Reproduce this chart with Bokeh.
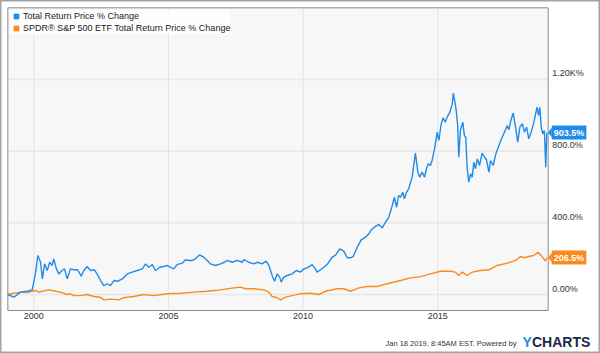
from bokeh.plotting import figure
from bokeh.models import (ColumnDataSource, Range1d, Legend, LegendItem, Label, PolyAnnotation)
from bokeh.core.properties import value
from bokeh.embed import file_html
from bokeh.resources import INLINE

# ---------------- data (decimal years, % change) ----------------
series_names = ["Total Return Price % Change",
                "SPDR\u00ae S&P 500 ETF Total Return Price % Change"]

blue_t = [1999.03, 1999.26, 1999.51, 1999.75, 1999.94, 2000.06, 2000.15, 2000.25, 2000.32, 2000.40,
          2000.50, 2000.59, 2000.68, 2000.74, 2000.84, 2000.93, 2001.05, 2001.14, 2001.24, 2001.36,
          2001.49, 2001.63, 2001.76, 2001.86, 2001.98, 2002.11, 2002.25, 2002.35, 2002.48, 2002.60,
          2002.73, 2002.85, 2002.97, 2003.12, 2003.29, 2003.47, 2003.65, 2003.84, 2004.03, 2004.15,
          2004.27, 2004.40, 2004.52, 2004.68, 2004.83, 2004.95, 2005.08, 2005.20, 2005.32, 2005.51,
          2005.63, 2005.76, 2005.88, 2006.00, 2006.15, 2006.31, 2006.44, 2006.56, 2006.75, 2006.93,
          2007.08, 2007.18, 2007.37, 2007.55, 2007.74, 2007.80, 2007.98, 2008.17, 2008.30, 2008.48,
          2008.63, 2008.73, 2008.85, 2008.94, 2009.04, 2009.13, 2009.19, 2009.28, 2009.41, 2009.59,
          2009.75, 2009.90, 2010.03, 2010.15, 2010.34, 2010.46, 2010.52, 2010.65, 2010.77, 2010.89,
          2011.08, 2011.20, 2011.36, 2011.51, 2011.64, 2011.76, 2011.86, 2012.01, 2012.16, 2012.32,
          2012.44, 2012.53, 2012.69, 2012.81, 2012.94, 2013.06, 2013.18, 2013.31, 2013.39, 2013.47,
          2013.55, 2013.62, 2013.70, 2013.76, 2013.84, 2013.92, 2014.05, 2014.17, 2014.26, 2014.33,
          2014.42, 2014.51, 2014.58, 2014.64, 2014.73, 2014.79, 2014.88, 2014.98, 2015.04, 2015.13,
          2015.20, 2015.28, 2015.35, 2015.45, 2015.54, 2015.58, 2015.65, 2015.70, 2015.74, 2015.78,
          2015.84, 2015.93, 2015.99, 2016.04, 2016.09, 2016.15, 2016.22, 2016.28, 2016.34, 2016.40,
          2016.47, 2016.55, 2016.65, 2016.74, 2016.81, 2016.90, 2016.96, 2017.06, 2017.14, 2017.27,
          2017.39, 2017.48, 2017.58, 2017.64, 2017.73, 2017.80, 2017.89, 2017.97, 2018.05, 2018.14,
          2018.22, 2018.30, 2018.38, 2018.47, 2018.57, 2018.64, 2018.69, 2018.74, 2018.79, 2018.84,
          2018.90, 2018.96, 2019.01, 2019.05]
blue_v = [0, -15, 13, 18, 26, 115, 218, 180, 87, 171,
          134, 180, 162, 199, 143, 115, 134, 143, 87, 143,
          138, 138, 102, 134, 156, 134, 138, 115, 78, 50,
          60, 50, 78, 74, 87, 115, 125, 134, 143, 171,
          152, 167, 134, 152, 156, 162, 152, 143, 167, 175,
          194, 190, 190, 199, 221, 208, 190, 171, 162, 171,
          180, 190, 180, 190, 180, 194, 180, 171, 180, 171,
          186, 162, 106, 74, 115, 97, 69, 97, 106, 115,
          134, 125, 143, 149, 167, 143, 125, 138, 152, 167,
          208, 218, 255, 242, 205, 205, 212, 264, 305, 320,
          339, 361, 380, 391, 372, 404, 431, 497, 543, 487,
          553, 543, 571, 534, 571, 590, 655, 789, 683, 655,
          683, 655, 702, 729, 720, 748, 813, 906, 860, 953,
          986, 962, 990, 1018, 1064, 1124, 1064, 1008, 943, 766,
          915, 962, 887, 878, 710, 627, 673, 655, 738, 702,
          757, 720, 789, 766, 752, 683, 748, 720, 776, 832,
          878, 906, 943, 919, 981, 1012, 934, 850, 934, 953,
          906, 934, 869, 906, 962, 1012, 1045, 999, 1045, 934,
          897, 915, 710, 903.5]

orange_t = [1999.03, 1999.26, 1999.51, 1999.75, 1999.94, 2000.06, 2000.19, 2000.31, 2000.56, 2000.81,
            2000.99, 2001.24, 2001.36, 2001.49, 2001.73, 2001.98, 2002.23, 2002.48, 2002.60, 2002.85,
            2003.16, 2003.34, 2003.71, 2004.08, 2004.46, 2004.95, 2005.45, 2005.94, 2006.44, 2006.93,
            2007.43, 2007.68, 2007.86, 2008.17, 2008.54, 2008.73, 2008.85, 2009.04, 2009.16, 2009.35,
            2009.59, 2009.90, 2010.27, 2010.58, 2010.83, 2011.27, 2011.51, 2011.76, 2012.07, 2012.38,
            2012.75, 2013.12, 2013.62, 2013.99, 2014.36, 2014.73, 2015.10, 2015.47, 2015.65, 2015.78,
            2015.91, 2016.09, 2016.28, 2016.59, 2016.90, 2017.21, 2017.58, 2017.89, 2018.07, 2018.22,
            2018.38, 2018.57, 2018.72, 2018.84, 2019.00, 2019.05]
orange_v = [0, 7, 13, 11, 18, 22, 13, 18, 26, 18,
            13, 0, 4, -6, -6, 0, -11, -15, -30, -26,
            -30, -18, -11, 0, -6, 4, 7, 13, 18, 26,
            37, 41, 32, 32, 26, 13, -11, -18, -30, -15,
            -6, 5, 7, 0, 18, 32, 32, 18, 37, 45,
            45, 60, 78, 93, 100, 115, 130, 130, 125, 106,
            125, 106, 125, 134, 138, 162, 175, 190, 212, 205,
            212, 218, 236, 218, 186, 206.5]

x_ticks = [2000, 2005, 2010, 2015]
x_tick_labels = ["2000", "2005", "2010", "2015"]
y_ticks = [0, 400, 800, 1200]
y_tick_labels = ["0.00%", "400.0%", "800.0%", "1.20K%"]
last_labels = ["903.5%", "206.5%"]
footer_text = "Jan 18 2019, 8:45AM EST.  Powered by"
brand = ["Y", "CHARTS"]

# ---------------- layout constants ----------------
W, H = 600, 353
PXY = 26.93          # pixels per year
PPV = 0.17917        # pixels per percent
X_2000, Y_ZERO = 33.3, 294.0   # canvas pixel of year 2000 / of 0 %
XR = (2000 - X_2000 / PXY, 2000 + (W - X_2000) / PXY)
YR = ((Y_ZERO - H) / PPV, Y_ZERO / PPV)
PA_X = (1999.035, 2019.10)     # plot-area extent (data)
PA_Y = (-89.3, 1600.0)

BLUE = "#1f8bea"
ORANGE = "#fb8a1e"
FONT = "Liberation Sans"
TXT = "#333333"

p = figure(width=W, height=H, output_backend="svg", toolbar_location=None,
           x_range=Range1d(*XR), y_range=Range1d(*YR),
           min_border=0, min_border_left=0, min_border_right=0, min_border_top=0,
           min_border_bottom=0, x_axis_type=None, y_axis_type=None,
           background_fill_color="white", border_fill_color="white",
           outline_line_color="#a3a3a3", outline_line_width=2)
p.grid.visible = False

# plot area
p.quad(left=[PA_X[0]], right=[PA_X[1]], bottom=[PA_Y[0]], top=[PA_Y[1]],
       fill_color="#f7f7f7", line_color=None)
# grid lines
p.segment(x0=x_ticks, x1=x_ticks, y0=[PA_Y[0]] * len(x_ticks), y1=[PA_Y[1]] * len(x_ticks),
          line_color="#e3e3e3", line_width=1)
p.segment(x0=[PA_X[0]] * len(y_ticks), x1=[PA_X[1]] * len(y_ticks), y0=y_ticks, y1=y_ticks,
          line_color="#e8e8e8", line_width=1.5)

# series
src_b = ColumnDataSource(dict(t=blue_t, v=blue_v))
src_o = ColumnDataSource(dict(t=orange_t, v=orange_v))
p.line("t", "v", source=src_o, line_color=ORANGE, line_width=1.4)
p.line("t", "v", source=src_b, line_color=BLUE, line_width=1.4)

# plot-area border
p.quad(left=[PA_X[0]], right=[PA_X[1]], bottom=[PA_Y[0]], top=[PA_Y[1]],
       fill_color=None, line_color="#8a8a8a", line_width=1)

# tick labels
p.text(x=x_ticks, y=[PA_Y[0]] * len(x_ticks), text=x_tick_labels, y_offset=3,
       text_align="center", text_baseline="top", text_font=value(FONT),
       text_font_size="9px", text_color=TXT)
p.text(x=[PA_X[1]] * len(y_ticks), y=y_ticks, text=y_tick_labels, x_offset=4, y_offset=-1,
       text_align="left", text_baseline="bottom", text_font=value(FONT),
       text_font_size="9px", text_color=TXT)

# legend with square markers
nan = float("nan")
sq_b = p.scatter([nan], [nan], marker="square", color=BLUE)
sq_o = p.scatter([nan], [nan], marker="square", color=ORANGE)
legend = Legend(items=[LegendItem(label=series_names[0], renderers=[sq_b]),
                       LegendItem(label=series_names[1], renderers=[sq_o])],
                location="top_left", margin=10, padding=3, spacing=0,
                glyph_width=12, glyph_height=12, label_height=12, label_standoff=1,
                label_text_font=FONT, label_text_font_size="9px", label_text_color="#222222",
                background_fill_color="white", background_fill_alpha=0.85,
                border_line_color=None)
p.add_layout(legend)

# last-value flags
for tt, vv, txt, col in [(blue_t[-1], blue_v[-1], last_labels[0], BLUE),
                         (orange_t[-1], orange_v[-1], last_labels[1], ORANGE)]:
    dx = 5.0 / PXY
    dy = 5.0 / PPV
    p.add_layout(PolyAnnotation(xs=[tt + 1.3 / PXY, tt + dx, tt + dx], ys=[vv, vv + dy, vv - dy],
                                fill_color=col, fill_alpha=1, line_color=None))
    p.add_layout(Label(x=tt, y=vv, x_offset=5, text=txt, text_color="white",
                       text_font=FONT, text_font_size="9px", text_font_style="bold",
                       text_baseline="middle", text_align="left",
                       background_fill_color=col, padding=2))

# footer
p.add_layout(Label(x=518, y=10, x_units="screen", y_units="screen", text=footer_text,
                   text_font=FONT, text_font_size="7.5px", text_color=TXT,
                   text_align="right", text_baseline="middle"))
p.add_layout(Label(x=522, y=11.5, x_units="screen", y_units="screen", text=brand[0],
                   text_font=FONT, text_font_size="14px", text_font_style="bold",
                   text_color="#1f8bea", text_align="left", text_baseline="middle"))
p.add_layout(Label(x=531.5, y=11.5, x_units="screen", y_units="screen", text=brand[1],
                   text_font=FONT, text_font_size="14px", text_font_style="bold",
                   text_color="#1b2a48", text_align="left", text_baseline="middle"))

open("out.html", "w").write(file_html(p, INLINE))
